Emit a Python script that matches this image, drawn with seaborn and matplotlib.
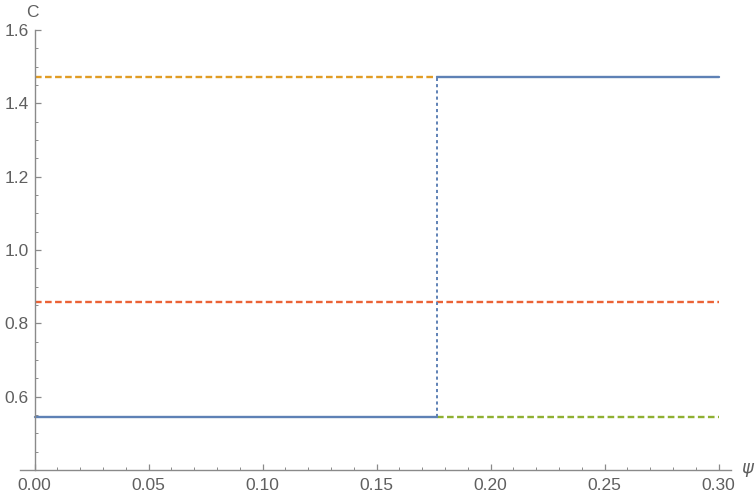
import numpy as np
import pandas as pd
import matplotlib
matplotlib.use("Agg")
import matplotlib.pyplot as plt
from matplotlib.ticker import FixedLocator, FormatStrFormatter
import seaborn as sns

# Parameter range and switching point
psi_range = [0.0, 0.30]
psi_switch = 0.1765

# Levels of C
c_low = 0.5445
c_mid = 0.857
c_high = 1.471

# Tick values
x_major = [0.00, 0.05, 0.10, 0.15, 0.20, 0.25, 0.30]
y_major = [0.6, 0.8, 1.0, 1.2, 1.4, 1.6]

blue = "#5E81B5"
orange = "#E19C24"
green = "#8FB032"
red = "#EB6235"
axis_gray = "#8a8a8a"
text_gray = "#5f5f5f"

sns.set_style("white")
plt.rcParams["font.family"] = ["Liberation Sans", "DejaVu Sans"]

W, H = 756, 497
fig = plt.figure(figsize=(W / 100, H / 100), dpi=100)
ax_left, ax_right, ax_top, ax_bot = 20, 730.7, 30, 470
ax = fig.add_axes([ax_left / W, 1 - ax_bot / H, (ax_right - ax_left) / W, (ax_bot - ax_top) / H])

# Solid curve: low branch, jump, high branch
seg_low = pd.DataFrame({"psi": [psi_range[0], psi_switch], "C": [c_low, c_low]})
seg_high = pd.DataFrame({"psi": [psi_switch, psi_range[1]], "C": [c_high, c_high]})
seg_jump = pd.DataFrame({"psi": [psi_switch, psi_switch], "C": [c_low, c_high]})

# Dashed reference levels
ref_high = pd.DataFrame({"psi": [psi_range[0], psi_switch], "C": [c_high, c_high]})
ref_mid = pd.DataFrame({"psi": [psi_range[0], psi_range[1]], "C": [c_mid, c_mid]})
ref_low = pd.DataFrame({"psi": [psi_switch, psi_range[1]], "C": [c_low, c_low]})

lw = 1.7
dash = (0, (2.8, 1.45))
sns.lineplot(data=ref_mid, x="psi", y="C", ax=ax, color=red, lw=lw,
             linestyle=dash, sort=False, estimator=None)
sns.lineplot(data=ref_high, x="psi", y="C", ax=ax, color=orange, lw=lw,
             linestyle=dash, sort=False, estimator=None)
sns.lineplot(data=ref_low, x="psi", y="C", ax=ax, color=green, lw=lw,
             linestyle=dash, sort=False, estimator=None)
sns.lineplot(data=seg_jump, x="psi", y="C", ax=ax, color=blue, lw=1.4,
             linestyle=(0, (1.6, 1.6)), sort=False, estimator=None)
sns.lineplot(data=seg_low, x="psi", y="C", ax=ax, color=blue, lw=lw,
             sort=False, estimator=None)
sns.lineplot(data=seg_high, x="psi", y="C", ax=ax, color=blue, lw=lw,
             sort=False, estimator=None)

px_per_unit = (718.5 - 34.5) / 0.30
ax.set_xlim(-(34.5 - ax_left) / px_per_unit, (ax_right - 34.5) / px_per_unit)
ax.set_ylim(0.4, 1.6)

ax.spines["left"].set_position(("data", 0))
ax.spines["top"].set_visible(False)
ax.spines["right"].set_visible(False)
for s in ("left", "bottom"):
    ax.spines[s].set_color(axis_gray)
    ax.spines[s].set_linewidth(1.0)

ax.xaxis.set_major_locator(FixedLocator(x_major))
ax.xaxis.set_minor_locator(FixedLocator(np.round(np.arange(0.01, 0.30, 0.01), 2)))
ax.xaxis.set_major_formatter(FormatStrFormatter("%.2f"))
ax.yaxis.set_major_locator(FixedLocator(y_major))
ax.yaxis.set_minor_locator(FixedLocator([0.45, 0.5, 0.55, 0.65, 0.7, 0.75, 0.85, 0.9, 0.95,
                                         1.05, 1.1, 1.15, 1.25, 1.3, 1.35, 1.45, 1.5, 1.55]))
ax.yaxis.set_major_formatter(FormatStrFormatter("%.1f"))

ax.tick_params(axis="both", which="major", direction="in", length=4.5, width=0.9,
               color=axis_gray, labelcolor=text_gray, labelsize=12.5, left=True, bottom=True)
ax.tick_params(axis="both", which="minor", direction="in", length=2.5, width=0.7,
               color=axis_gray, left=True, bottom=True)
ax.tick_params(axis="x", which="major", pad=6)
ax.tick_params(axis="y", which="major", pad=4)

ax.set_xlabel("")
ax.set_ylabel("")
ax.grid(False)

fig.text(32 / W, 1 - 12.5 / H, "C", ha="center", va="center", color=text_gray, fontsize=12.5)
fig.text(747 / W, 1 - 468 / H, "ψ", ha="center", va="center", color=text_gray,
         fontsize=13, style="italic", family=["DejaVu Sans"])

fig.savefig("out.png", dpi=100)
